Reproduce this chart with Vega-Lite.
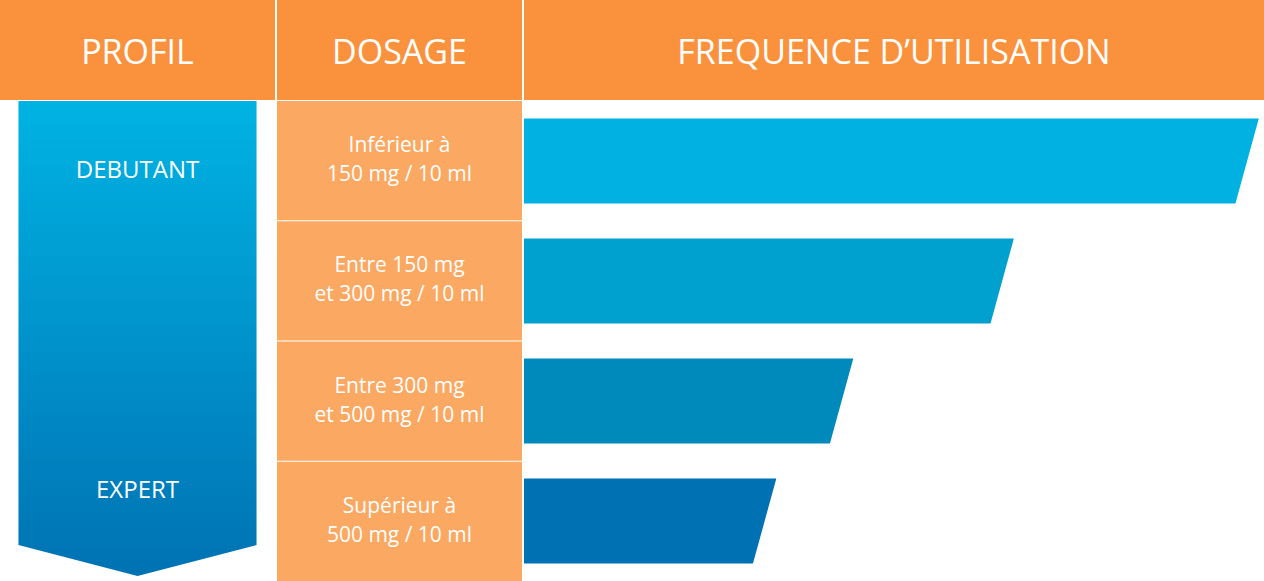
{
  "$schema": "https://vega.github.io/schema/vega-lite/v6.json",
  "padding": 0,
  "background": "white",
  "spacing": 2,
  "config": {"view": {"stroke": null}, "text": {"font": "Open Sans"}},
  "datasets": {
    "dosages": [
      {"dosage": "Inférieur à\n150 mg / 10 ml", "frequence": 99.3},
      {"dosage": "Entre 150 mg\net 300 mg / 10 ml", "frequence": 66.2},
      {"dosage": "Entre 300 mg\net 500 mg / 10 ml", "frequence": 44.5},
      {"dosage": "Supérieur à\n500 mg / 10 ml", "frequence": 34.1}
    ],
    "profils": [
      {"profil": "DEBUTANT", "rang": 0},
      {"profil": "EXPERT", "rang": 1}
    ]
  },
  "hconcat": [
    {
      "spacing": 1,
      "vconcat": [
        {
          "width": 275, "height": 100,
          "data": {"values": [{"titre": "PROFIL"}]},
          "layer": [
            {"mark": {"type": "rect", "color": "#FA923D"}, "encoding": {}},
            {"mark": {"type": "text", "color": "white", "fontSize": 34, "dy": 4}, "encoding": {"text": {"field": "titre"}}}
          ]
        },
        {
          "width": 275, "height": 480,
          "layer": [
            {
              "data": {"values": [{"profil": "progression"}]},
              "mark": {
                "type": "point",
                "shape": "M-0.496,-1 L0.496,-1 L0.496,0.85 L0,0.979 L-0.496,0.85 Z",
                "size": 230400,
                "filled": true,
                "opacity": 1,
                "strokeWidth": 0,
                "color": {"gradient": "linear", "x1": 0, "y1": 0, "x2": 0, "y2": 1,
                  "stops": [{"offset": 0, "color": "#00B3E3"}, {"offset": 1, "color": "#0072B3"}]}
              },
              "encoding": {}
            },
            {
              "data": {"name": "profils"},
              "mark": {"type": "text", "color": "white", "fontSize": 24, "dy": 1},
              "encoding": {
                "y": {"field": "rang", "type": "quantitative", "axis": null,
                  "scale": {"domain": [-0.2156, 1.2844], "reverse": true, "nice": false, "zero": false}},
                "text": {"field": "profil"}
              }
            }
          ]
        }
      ]
    },
    {
      "spacing": 1,
      "vconcat": [
        {
          "width": 245, "height": 100,
          "data": {"values": [{"titre": "DOSAGE"}]},
          "layer": [
            {"mark": {"type": "rect", "color": "#FA923D"}, "encoding": {}},
            {"mark": {"type": "text", "color": "white", "fontSize": 34, "dy": 4}, "encoding": {"text": {"field": "titre"}}}
          ]
        },
        {
          "width": 245, "height": 480,
          "data": {"name": "dosages"},
          "encoding": {
            "y": {"field": "dosage", "type": "nominal", "sort": null, "axis": null,
              "scale": {"paddingInner": 0.0083, "paddingOuter": 0}}
          },
          "layer": [
            {"mark": {"type": "rect", "color": "#FBA862"}},
            {"mark": {"type": "text", "color": "white", "fontSize": 21, "lineBreak": "\n", "lineHeight": 29, "dy": -14.5},
              "encoding": {"text": {"field": "dosage"}}}
          ]
        }
      ]
    },
    {
      "spacing": 1,
      "vconcat": [
        {
          "width": 740, "height": 100,
          "data": {"values": [{"titre": "FREQUENCE D’UTILISATION"}]},
          "layer": [
            {"mark": {"type": "rect", "color": "#FA923D"}, "encoding": {}},
            {"mark": {"type": "text", "color": "white", "fontSize": 34, "dy": 4}, "encoding": {"text": {"field": "titre"}}}
          ]
        },
        {
          "width": 740, "height": 480,
          "data": {"name": "dosages"},
          "encoding": {
            "y": {"field": "dosage", "type": "nominal", "sort": null, "axis": null,
              "scale": {"paddingInner": 0.2917, "paddingOuter": 0.1458}},
            "x": {"field": "frequence", "type": "quantitative", "axis": null,
              "scale": {"domain": [0, 100], "nice": false}}
          },
          "layer": [
            {
              "mark": {"type": "bar"},
              "encoding": {
                "color": {"field": "dosage", "type": "nominal", "sort": null, "legend": null,
                  "scale": {"range": ["#00B1E2", "#00A1CE", "#0089BB", "#0071B2"]}}
              }
            },
            {
              "mark": {"type": "point", "shape": "M0.0275,-1.1 L0.4,-1.1 L0.4,1.1 L-0.5775,1.1 Z",
                "size": 7225, "filled": true, "opacity": 1, "strokeWidth": 0, "color": "white"}
            }
          ]
        }
      ]
    }
  ]
}
